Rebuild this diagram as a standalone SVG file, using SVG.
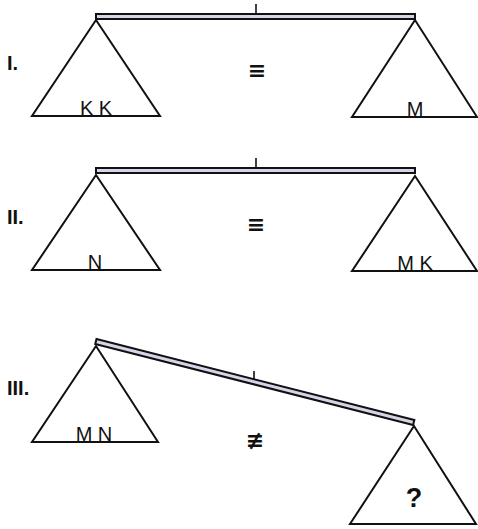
<svg xmlns="http://www.w3.org/2000/svg" width="478" height="529" viewBox="0 0 478 529">
<style>
.beam{fill:#d8d4e8;stroke:#111;stroke-width:2}
.pan{fill:none;stroke:#111;stroke-width:2;stroke-linejoin:miter}
.tick{stroke:#111;stroke-width:1.6}
.lbl{font-family:"Liberation Sans",Arial,sans-serif;font-size:20px;fill:#111;text-anchor:middle}
.num{font-family:"Liberation Sans",Arial,sans-serif;font-size:20px;font-weight:bold;fill:#111}
.sym{font-family:"DejaVu Sans",sans-serif;font-size:22px;font-weight:bold;fill:#111;text-anchor:middle}
</style>
<rect width="478" height="529" fill="#fff"/>
<g id="scale1">
  <text class="num" x="7" y="70">I.</text>
  <line class="tick" x1="256" y1="4" x2="256" y2="14"/>
  <rect class="beam" x="96" y="14" width="319" height="5"/>
  <g id="pan1L"><polygon class="pan" points="96,20 32,116 160,116"/><text class="lbl" x="96" y="115">K K</text></g>
  <g id="pan1R"><polygon class="pan" points="415,20 352,117 477,117"/><text class="lbl" x="415" y="116">M</text></g>
  <text class="sym" x="257" y="78">≡</text>
</g>
<g id="scale2">
  <text class="num" x="7" y="224">II.</text>
  <line class="tick" x1="256" y1="158" x2="256" y2="168"/>
  <rect class="beam" x="96" y="168" width="319" height="5"/>
  <g id="pan2L"><polygon class="pan" points="96,175 32,270 160,270"/><text class="lbl" x="95" y="269">N</text></g>
  <g id="pan2R"><polygon class="pan" points="415,176 352,271 477,271"/><text class="lbl" x="415" y="270">M K</text></g>
  <text class="sym" x="256" y="232">≡</text>
</g>
<g id="scale3">
  <text class="num" x="7" y="395">III.</text>
  <line class="tick" x1="254" y1="371" x2="254" y2="382"/>
  <rect class="beam" x="96" y="339" width="328" height="5" transform="rotate(14.3 96 341)"/>
  <g id="pan3L"><polygon class="pan" points="96,346 32,442 158,442"/><text class="lbl" x="94" y="441">M N</text></g>
  <g id="pan3R"><polygon class="pan" points="414,426 350,524 476,524"/><text class="lbl" x="414" y="507" style="font-weight:bold;font-size:27px">?</text></g>
  <text class="sym" x="255" y="448">≢</text>
</g>
</svg>
